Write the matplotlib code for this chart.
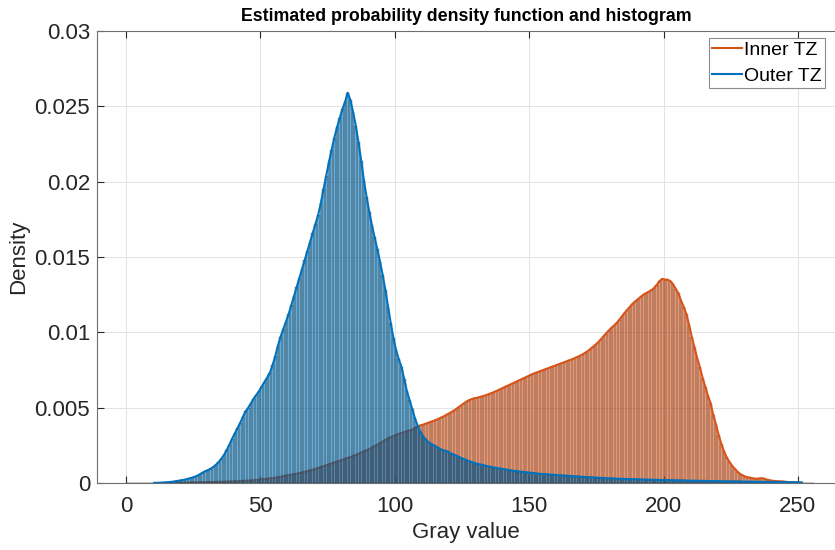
import numpy as np
import matplotlib.pyplot as plt

plt.rcParams['font.family'] = ['Liberation Sans', 'DejaVu Sans']

# gray levels 0..255, bin width 1
gray = np.arange(256)

# density per bin, in units of 1e-4
outer_e4 = [
    0, 0, 0, 0, 0, 0, 0, 0, 0, 0,
    0.1, 0.1, 0.2, 0.3, 0.4, 0.5, 0.7, 0.9, 1.2, 1.5,
    1.8, 2.1, 2.5, 3.0, 3.5, 4.1, 4.8, 5.8, 6.9, 7.8,
    8.6, 9.5, 10.7, 12.2, 14.0, 16.2, 18.8, 22.0, 25.5, 29.5,
    33, 36.5, 40, 44, 47.5, 50, 53, 56, 58.5, 61,
    64, 67, 70, 73, 78, 84, 91, 97, 102, 107,
    112, 118, 124, 130, 136, 142, 148, 154, 160, 166,
    172, 178, 186, 195, 204, 213, 221, 229, 236, 242,
    248, 253, 259, 254, 246, 237, 226, 214, 201, 190,
    180, 171, 163, 155, 147, 138, 128, 117, 106, 96,
    88, 82, 77, 69, 61, 55, 49, 43, 38, 34,
    31, 29, 27, 26, 25, 24, 23, 22, 21.5, 21,
    20, 19.2, 18.4, 17.6, 16.8, 16, 15.3, 14.6, 14, 13.4,
    12.8, 12.4, 12, 11.6, 11.2, 10.8, 10.4, 10.1, 9.8, 9.5,
    9.2, 8.9, 8.6, 8.3, 8, 7.8, 7.6, 7.4, 7.2, 7,
    6.8, 6.6, 6.4, 6.2, 6, 5.9, 5.8, 5.6, 5.5, 5.4,
    5.2, 5.1, 5, 4.9, 4.8, 4.6, 4.5, 4.4, 4.3, 4.1,
    4, 3.9, 3.8, 3.7, 3.6, 3.5, 3.4, 3.3, 3.2, 3.1,
    3, 3, 2.9, 2.8, 2.8, 2.7, 2.6, 2.6, 2.5, 2.5,
    2.4, 2.4, 2.3, 2.3, 2.2, 2.2, 2.1, 2.1, 2, 2,
    2, 1.9, 1.9, 1.8, 1.8, 1.7, 1.7, 1.7, 1.6, 1.6,
    1.5, 1.5, 1.5, 1.4, 1.4, 1.4, 1.3, 1.3, 1.3, 1.2,
    1.2, 1.2, 1.1, 1.1, 1.1, 1.0, 1.0, 1.0, 1.0, 0.9,
    0.9, 0.9, 0.9, 0.8, 0.8, 0.8, 0.8, 0.7, 0.7, 0.7,
    0.7, 0.7, 0.6, 0.6, 0.6, 0.6, 0.5, 0.5, 0.5, 0.5,
    0.4, 0.3, 0, 0, 0, 0,
]

inner_e4 = [
    0, 0, 0, 0, 0, 0, 0, 0, 0, 0,
    0, 0, 0, 0, 0, 0, 0, 0, 0.1, 0.1,
    0.2, 0.2, 0.3, 0.3, 0.4, 0.4, 0.4, 0.5, 0.5, 0.6,
    0.6, 0.6, 0.7, 0.7, 0.8, 0.8, 0.9, 0.9, 1.0, 1.0,
    1.1, 1.2, 1.3, 1.4, 1.5, 1.6, 1.7, 1.8, 2.0, 2.2,
    2.4, 2.6, 2.8, 3.0, 3.2, 3.5, 3.8, 4.1, 4.5, 4.9,
    5.2, 5.5, 5.8, 6.2, 6.6, 7.0, 7.4, 7.9, 8.4, 8.9,
    9.4, 10, 10.6, 11.2, 11.8, 12.4, 13, 13.6, 14.2, 14.8,
    15.4, 16, 16.6, 17.2, 17.9, 18.6, 19.4, 20.2, 21, 21.7,
    22.5, 23.5, 24.5, 25.5, 26.5, 27.5, 28.7, 29.6, 30.4, 31.2,
    32, 32.6, 33.2, 33.8, 34.4, 34.9, 35.4, 36.5, 37.5, 38.2,
    38.7, 39.4, 40, 40.7, 41.3, 42, 42.8, 43.6, 44.5, 45.5,
    46.5, 47.5, 48.7, 50, 51.3, 52.6, 53.8, 54.8, 55.6, 56.2,
    56.5, 57, 57.5, 58, 58.7, 59.4, 60, 60.8, 61.6, 62.5,
    63.3, 64.2, 65, 65.8, 66.7, 67.5, 68.3, 69.2, 70, 70.8,
    71.7, 72.5, 73.2, 73.8, 74.5, 75.2, 75.8, 76.5, 77.2, 77.8,
    78.5, 79.2, 79.8, 80.5, 81.2, 81.8, 82.5, 83.3, 84.1, 85,
    86, 87.2, 88.5, 90, 91.5, 93, 95, 97, 99, 101,
    102.8, 104.4, 106, 108.3, 110.6, 112.8, 115, 117, 119, 120.5,
    122, 123.5, 125, 126, 127, 128, 129.5, 131.5, 134, 135.5,
    135, 135, 134, 132, 129, 126, 121, 117, 112, 105,
    97, 90, 83, 77, 70, 64, 58, 53, 45, 39,
    32, 26, 21, 17, 14, 11.5, 9.5, 7.5, 6, 5,
    4.2, 3.7, 3.4, 3.0, 2.8, 3.0, 3.2, 2.8, 2.2, 1.8,
    1.5, 1.3, 1.2, 1.1, 1.0, 0.8, 0.6, 0.5, 0.4, 0.3,
    0.2, 0.1, 0, 0, 0, 0,
]

outer = np.array(outer_e4) * 1e-4
inner = np.array(inner_e4) * 1e-4

orange = '#D95319'
blue = '#0072BD'

fig = plt.figure(figsize=(8.35, 5.5), dpi=100)
ax = fig.add_axes([97 / 835, 1 - 483 / 550, 1 - 97 / 835, (483 - 31) / 550])


def draw_hist(vals, color, z, edge_alpha):
    # MATLAB-like histogram: translucent faces with thin dark edges
    ax.bar(gray, vals, width=1, align='edge', color=color, alpha=0.6,
           edgecolor='none', zorder=z)
    ax.bar(gray, vals, width=1, align='edge', fill=False,
           edgecolor='#222222', linewidth=0.3, alpha=edge_alpha, zorder=z)


# pdf lines only over the support of each estimate
inner_on = inner > 0
outer_on = outer > 0

draw_hist(inner, orange, 2, 0.55)
ax.plot(gray[inner_on] + 0.5, inner[inner_on], color=orange, lw=1.5,
        label='Inner TZ', zorder=3)
draw_hist(outer, blue, 4, 0.7)
ax.plot(gray[outer_on] + 0.5, outer[outer_on], color=blue, lw=1.5,
        label='Outer TZ', zorder=5)

ax.set_xlim(-10.8, 263.8)
ax.set_ylim(0, 0.03)
ax.set_xticks([0, 50, 100, 150, 200, 250])
ax.set_yticks([0, 0.005, 0.01, 0.015, 0.02, 0.025, 0.03])
ax.set_yticklabels(['0', '0.005', '0.01', '0.015', '0.02', '0.025', '0.03'])
ax.tick_params(direction='in', length=5, labelsize=16, colors='#262626',
               top=True)
ax.tick_params(axis='x', pad=9)
ax.tick_params(axis='y', pad=5)
ax.grid(True, color='#e3e3e3', lw=0.7, zorder=0)
ax.set_axisbelow(True)
for s in ['left', 'bottom', 'top']:
    ax.spines[s].set_color('#6e6e6e')
    ax.spines[s].set_linewidth(0.8)
ax.spines['right'].set_visible(False)

ax.set_xlabel('Gray value', fontsize=16, color='#262626', labelpad=4)
ax.set_ylabel('Density', fontsize=16, color='#262626', labelpad=4)
ax.set_title('Estimated probability density function and histogram',
             fontsize=12.8, fontweight='bold', pad=7)

leg = ax.legend(loc='upper right', bbox_to_anchor=(825 / 835, 1 - 38 / 550),
                bbox_transform=fig.transFigure, borderaxespad=0,
                fontsize=14, fancybox=False, framealpha=1,
                edgecolor='#8c8c8c', handlelength=1.5, handletextpad=0.15,
                borderpad=0.15, labelspacing=0.45)
leg.get_frame().set_linewidth(0.8)

fig.savefig('out.png', dpi=100)
